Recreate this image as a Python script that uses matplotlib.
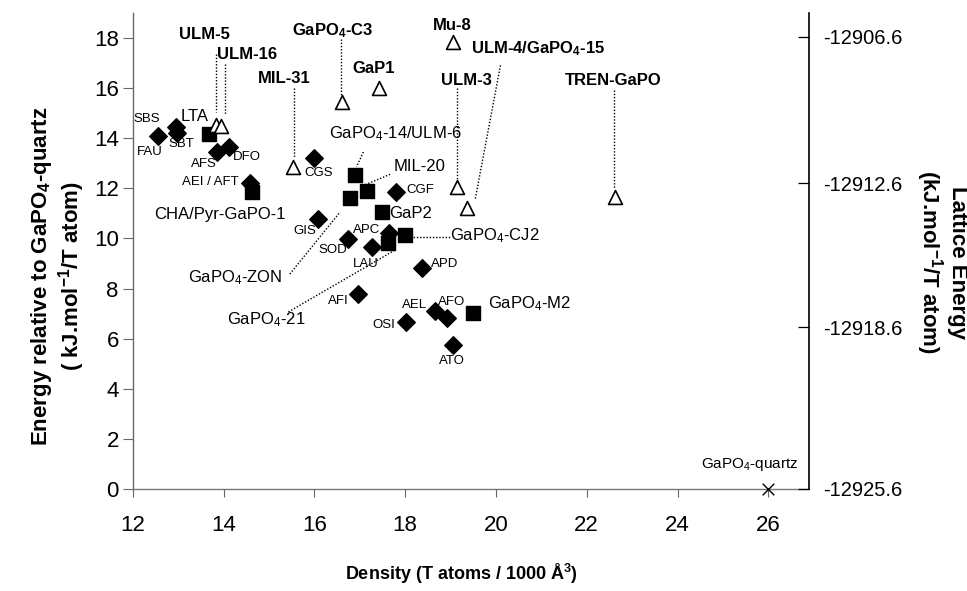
import matplotlib
matplotlib.use('Agg')
import matplotlib.pyplot as plt

plt.rcParams['font.family'] = ['Liberation Sans', 'DejaVu Sans']
plt.rcParams['mathtext.fontset'] = 'custom'
plt.rcParams['mathtext.rm'] = 'Liberation Sans'
plt.rcParams['mathtext.it'] = 'Liberation Sans:italic'
plt.rcParams['mathtext.bf'] = 'Liberation Sans:bold'
plt.rcParams['mathtext.default'] = 'regular'

# ---------------- data ----------------
# zeolite-type frameworks (filled diamonds)
diamond_names = ['FAU', 'SBS', 'SBT', 'AFS', 'DFO', 'AEI / AFT', 'CGS', 'GIS', 'CGF',
                 'APC', 'SOD', 'LAU', 'APD', 'AFI', 'AEL', 'AFO', 'OSI', 'ATO']
diamond_x = [12.56, 12.95, 12.98, 13.86, 14.12, 14.58, 15.99, 16.09, 17.80,
             17.65, 16.75, 17.26, 18.37, 16.97, 18.66, 18.92, 18.02, 19.05]
diamond_y = [14.08, 14.43, 14.21, 13.45, 13.65, 12.22, 13.23, 10.76, 11.86,
             10.20, 9.96, 9.64, 8.84, 7.80, 7.10, 6.83, 6.67, 5.74]

# known GaPO4 structures (filled squares)
square_names = ['LTA', 'CHA/Pyr-GaPO-1', 'GaPO4-14/ULM-6', 'MIL-20', 'GaPO4-ZON',
                'GaP2', 'GaPO4-21', 'GaPO4-CJ2', 'GaPO4-M2']
square_x = [13.67, 14.62, 16.90, 17.15, 16.79, 17.48, 17.63, 18.00, 19.50]
square_y = [14.19, 11.86, 12.52, 11.90, 11.60, 11.04, 9.80, 10.13, 7.01]

# hypothetical / fluorinated structures (open triangles)
triangle_names = ['ULM-5', 'ULM-16', 'MIL-31', 'GaPO4-C3', 'GaP1', 'Mu-8',
                  'ULM-3', 'ULM-4/GaPO4-15', 'TREN-GaPO']
triangle_x = [13.83, 13.95, 15.54, 16.60, 17.43, 19.05, 19.14, 19.36, 22.62]
triangle_y = [14.52, 14.48, 12.86, 15.45, 16.00, 17.84, 12.06, 11.20, 11.66]

# reference structure
quartz_x = [26.0]
quartz_y = [0.0]

x_ticks = [12, 14, 16, 18, 20, 22, 24, 26]
y_ticks = [0, 2, 4, 6, 8, 10, 12, 14, 16, 18]
right_tick_labels = ['-12925.6', '-12918.6', '-12912.6', '-12906.6']
right_tick_pos = [0.0, 6.45, 12.2, 18.05]

# ---------------- figure ----------------
fig = plt.figure(figsize=(9.67, 5.91), dpi=100)
ax = fig.add_axes([132.7 / 967, 102 / 591, (809.2 - 132.7) / 967, (489 - 13) / 591])
ax.set_xlim(12, 26.9)
ax.set_ylim(0, 19.0)

ax.scatter(diamond_x, diamond_y, marker='D', s=80, color='black', zorder=3)
ax.scatter(square_x, square_y, marker='s', s=115, color='black', zorder=3)
ax.scatter(triangle_x, triangle_y, marker='^', s=100, facecolor='white',
           edgecolor='black', linewidths=1.2, zorder=3)
ax.scatter(quartz_x, quartz_y, marker='x', s=70, color='black', linewidths=1.0,
           zorder=4, clip_on=False)

ax.set_xticks(x_ticks)
ax.set_yticks(y_ticks)
ax.tick_params(axis='y', direction='out', length=7, width=0.8, colors='#666666',
               labelcolor='black', labelsize=16, pad=3)
ax.tick_params(axis='x', direction='out', length=6, width=0.8, colors='#666666',
               labelcolor='black', labelsize=16, pad=13)
for s in ['top', 'right']:
    ax.spines[s].set_visible(False)
ax.spines['left'].set_color('#666666')
ax.spines['left'].set_linewidth(1.0)
ax.spines['bottom'].set_color('#777777')
ax.spines['bottom'].set_linewidth(1.0)

ax2 = ax.twinx()
ax2.set_ylim(ax.get_ylim())
ax2.set_yticks(right_tick_pos)
ax2.set_yticklabels(right_tick_labels)
ax2.tick_params(axis='y', direction='in', length=8, width=0.9, labelsize=14.5, pad=10)
for s in ['top', 'left', 'bottom']:
    ax2.spines[s].set_visible(False)
ax2.spines['right'].set_color('black')
ax2.spines['right'].set_linewidth(1.2)

# ---------------- annotations ----------------
small = 9.5
mid = 12
big = 12
labels = [
    # text, x, y, size, weight
    ('SBS', 12.31, 14.75, small, 'normal'),
    ('FAU', 12.38, 13.45, small, 'normal'),
    ('SBT', 13.06, 13.76, small, 'normal'),
    ('LTA', 13.36, 14.85, mid, 'normal'),
    ('AFS', 13.57, 12.99, small, 'normal'),
    ('DFO', 14.51, 13.25, small, 'normal'),
    ('AEI / AFT', 13.70, 12.26, small, 'normal'),
    ('CGS', 16.09, 12.62, small, 'normal'),
    ('CHA/Pyr-GaPO-1', 13.92, 10.95, mid, 'normal'),
    ('GIS', 15.80, 10.30, small, 'normal'),
    ('APC', 17.15, 10.33, small, 'normal'),
    ('SOD', 16.40, 9.53, small, 'normal'),
    ('LAU', 17.13, 9.00, small, 'normal'),
    ('GaP2', 18.11, 11.00, mid, 'normal'),
    ('GaPO$_4$-CJ2', 19.98, 10.12, mid, 'normal'),
    ('MIL-20', 18.31, 12.86, mid, 'normal'),
    ('GaPO$_4$-14/ULM-6', 17.78, 14.19, mid, 'normal'),
    ('CGF', 18.34, 11.95, small, 'normal'),
    ('APD', 18.86, 8.97, small, 'normal'),
    ('AFI', 16.53, 7.51, small, 'normal'),
    ('AEL', 18.20, 7.34, small, 'normal'),
    ('AFO', 19.03, 7.47, small, 'normal'),
    ('OSI', 17.53, 6.54, small, 'normal'),
    ('ATO', 19.03, 5.12, small, 'normal'),
    ('GaPO$_4$-M2', 20.75, 7.41, mid, 'normal'),
    ('GaPO$_4$-ZON', 14.25, 8.44, mid, 'normal'),
    ('GaPO$_4$-21', 14.95, 6.77, mid, 'normal'),
    ('ULM-5', 13.59, 18.14, big, 'bold'),
    ('ULM-16', 14.51, 17.35, big, 'bold'),
    ('MIL-31', 15.33, 16.38, big, 'bold'),
    ('GaPO$_4$-C3', 16.41, 18.28, big, 'bold'),
    ('GaP1', 17.30, 16.78, big, 'bold'),
    ('Mu-8', 19.03, 18.50, big, 'bold'),
    ('ULM-3', 19.34, 16.31, big, 'bold'),
    ('ULM-4/GaPO$_4$-15', 20.93, 17.58, big, 'bold'),
    ('TREN-GaPO', 22.59, 16.31, big, 'bold'),
    ('GaPO$_4$-quartz', 25.59, 0.98, 11, 'normal'),
]
for t, x, y, fs, fw in labels:
    ax.text(x, y, t, ha='center', va='center', fontsize=fs, fontweight=fw,
            clip_on=False, zorder=5)

leaders = [
    (13.83, 17.38, 13.83, 15.05),
    (14.04, 16.98, 14.04, 14.92),
    (15.56, 16.02, 15.56, 13.20),
    (16.59, 17.98, 16.59, 15.72),
    (19.14, 16.02, 19.14, 12.35),
    (20.10, 16.91, 19.54, 11.53),
    (22.59, 15.91, 22.59, 12.00),
    (17.08, 13.45, 16.93, 12.86),
    (17.67, 12.56, 17.01, 12.06),
    (15.46, 8.58, 16.57, 11.06),
    (15.43, 7.07, 17.77, 9.53),
    (18.11, 10.06, 18.99, 10.06),
]
for x1, y1, x2, y2 in leaders:
    ax.plot([x1, x2], [y1, y2], color='black', lw=1.0, ls=(0, (1, 1.3)), zorder=2)

# ---------------- axis titles ----------------
fig.text(58 / 967, 1 - 276 / 591,
         'Energy relative to GaPO$_4$-quartz\n( kJ.mol$^{-1}$/T atom)',
         rotation=90, ha='center', va='center', fontsize=16, fontweight='bold',
         linespacing=1.05)
fig.text(941 / 967, 1 - 262 / 591,
         'Lattice Energy\n(kJ.mol$^{-1}$/T atom)',
         rotation=270, ha='center', va='center', fontsize=16, fontweight='bold',
         linespacing=1.05)
fig.text(461 / 967, 1 - 574 / 591, 'Density (T atoms / 1000 Å$^3$)',
         ha='center', va='center', fontsize=13, fontweight='bold')

fig.savefig('out.png', dpi=100)
